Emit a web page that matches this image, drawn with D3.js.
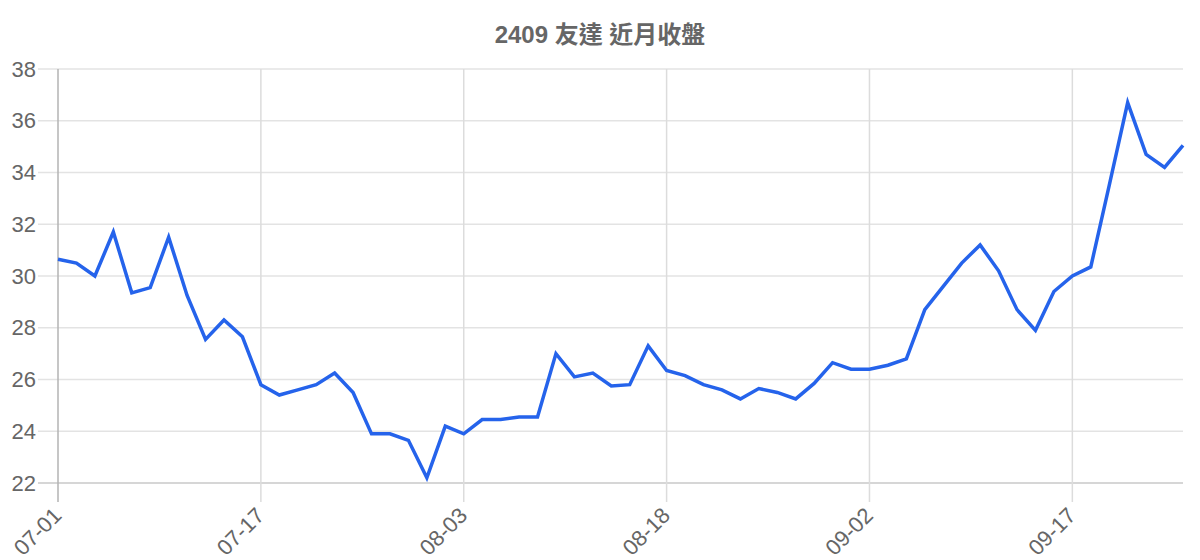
<!DOCTYPE html>
<html>
<head>
<meta charset="utf-8">
<script src="https://cdn.jsdelivr.net/npm/d3@7"></script>
<style>
  body { margin: 0; background: #fff; }
  svg text { font-family: "Liberation Sans", Arial, "Noto Sans CJK TC", sans-serif; fill: #666; }
</style>
</head>
<body>
<div id="chart"></div>
<script>
const title = "2409 友達 近月收盤";

// closing price per trading day
const closes = [
  30.65, 30.5, 30.0, 31.7, 29.35, 29.55, 31.5, 29.25, 27.55, 28.3,
  27.65, 25.8, 25.4, 25.6, 25.8, 26.25, 25.5, 23.9, 23.9, 23.65,
  22.2, 24.2, 23.9, 24.45, 24.45, 24.55, 24.55, 27.0, 26.1, 26.25,
  25.75, 25.8, 27.3, 26.35, 26.15, 25.8, 25.6, 25.25, 25.65, 25.5,
  25.25, 25.85, 26.65, 26.4, 26.4, 26.55, 26.8, 28.7, 29.6, 30.5,
  31.2, 30.2, 28.7, 27.9, 29.4, 30.0, 30.35, 33.5, 36.7, 34.7,
  34.2, 35.05
];

// shown date labels and the trading-day index they sit on
const tickIndex = [0, 11, 22, 33, 44, 55];
const tickLabels = ["07-01", "07-17", "08-03", "08-18", "09-02", "09-17"];

const yTicks = [22, 24, 26, 28, 30, 32, 34, 36, 38];

function drawChart(selector) {
  d3.select(selector).selectAll("*").remove();

  const W = 1200, H = 560;
  const margin = { top: 69, right: 17, bottom: 77, left: 58 };
  const width = W - margin.left - margin.right;
  const height = H - margin.top - margin.bottom;

  const svg = d3.select(selector).append("svg")
    .attr("width", W)
    .attr("height", H);

  const g = svg.append("g").attr("transform", `translate(${margin.left},${margin.top})`);

  const x = d3.scaleLinear().domain([0, closes.length - 1]).range([0, width]);
  const y = d3.scaleLinear().domain([22, 38]).range([height, 0]);

  // Title
  svg.append("text")
    .attr("x", W / 2)
    .attr("y", 43)
    .style("text-anchor", "middle")
    .style("font-size", "24px")
    .style("font-weight", "bold")
    .text(title);

  // Horizontal grid (extends a bit left of the axis as tick marks)
  g.append("g").selectAll("line")
    .data(yTicks)
    .enter().append("line")
    .attr("x1", -20)
    .attr("x2", width)
    .attr("y1", d => y(d))
    .attr("y2", d => y(d))
    .style("stroke", d => d === 22 ? "#c9c9c9" : "#e3e3e3")
    .style("stroke-width", "1.5px");

  // Vertical grid at labelled dates
  g.append("g").selectAll("line")
    .data(tickIndex)
    .enter().append("line")
    .attr("x1", d => x(d))
    .attr("x2", d => x(d))
    .attr("y1", 0)
    .attr("y2", height + 19)
    .style("stroke", (d, i) => i === 0 ? "#b3b3b3" : "#dcdcdc")
    .style("stroke-width", "1.5px");

  // Y axis labels
  const yAxis = g.append("g")
    .call(d3.axisLeft(y).tickValues(yTicks).tickSize(0).tickPadding(22));
  yAxis.select(".domain").remove();
  yAxis.selectAll("text")
    .style("font-size", "22px")
    .style("fill", "#666")
    .style("font-family", "Liberation Sans, Arial, sans-serif");

  // X axis labels, rotated
  g.append("g").selectAll("text")
    .data(tickIndex)
    .enter().append("text")
    .attr("transform", d => `translate(${x(d) - 6},${height + 23}) rotate(-45)`)
    .attr("dy", "0.7em")
    .style("text-anchor", "end")
    .style("font-size", "22px")
    .text((d, i) => tickLabels[i]);

  // Price line
  const line = d3.line()
    .x((d, i) => x(i))
    .y(d => y(d));

  g.append("path")
    .datum(closes)
    .attr("d", line)
    .style("fill", "none")
    .style("stroke", "#2563eb")
    .style("stroke-width", "3.5px")
    .style("stroke-linejoin", "miter");
}

drawChart("#chart");
</script>
</body>
</html>
